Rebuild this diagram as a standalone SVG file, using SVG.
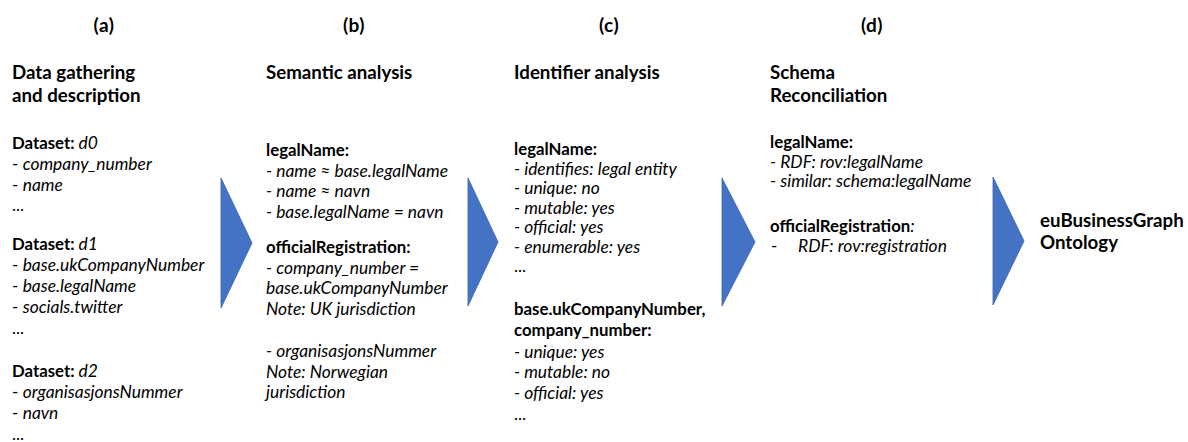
<svg xmlns="http://www.w3.org/2000/svg" width="1188" height="442" viewBox="0 0 1188 442">
  <style>
    text { font-family: Lato, "Open Sans", "DejaVu Sans", sans-serif; fill: #000; font-size: 17px; }
    .hd { font-size: 19px; font-weight: bold; text-anchor: middle; letter-spacing: 0.5px; }
    .tt { font-size: 18.7px; font-weight: bold; }
    .bd { font-weight: bold; font-size: 16.8px; }
    .it { font-style: italic; font-size: 17.4px; }
    .step { fill: #4472C4; stroke: #3A64AE; stroke-width: 0.8; }
  </style>

  <!-- stage arrows between the columns -->
  <g id="connectors">
    <polygon class="step" points="221,178 252,243 221,308"/>
    <polygon class="step" points="468,178 498,242 468,306"/>
    <polygon class="step" points="722,178 755,242 722,306"/>
    <polygon class="step" points="993,177 1024,241 993,305"/>
  </g>

  <!-- (a) data gathering -->
  <g id="stage-a">
    <text class="hd" x="104" y="32">(a)</text>
    <text class="tt" x="12" y="79">Data gathering</text>
    <text class="tt" x="12" y="102">and description</text>
    <text x="12" y="149"><tspan class="bd">Dataset: </tspan><tspan class="it">d0</tspan></text>
    <text x="12" y="170">- <tspan class="it">company_number</tspan></text>
    <text x="12" y="191">- <tspan class="it">name</tspan></text>
    <text x="12" y="211">...</text>
    <text x="12" y="250"><tspan class="bd">Dataset: </tspan><tspan class="it">d1</tspan></text>
    <text x="12" y="271">- <tspan class="it">base.ukCompanyNumber</tspan></text>
    <text x="12" y="292">- <tspan class="it">base.legalName</tspan></text>
    <text x="12" y="313">- <tspan class="it">socials.twitter</tspan></text>
    <text x="12" y="334">...</text>
    <text x="12" y="377"><tspan class="bd">Dataset: </tspan><tspan class="it">d2</tspan></text>
    <text x="12" y="398">- <tspan class="it">organisasjonsNummer</tspan></text>
    <text x="12" y="419">- <tspan class="it">navn</tspan></text>
    <text x="12" y="440">...</text>
  </g>

  <!-- (b) semantic analysis -->
  <g id="stage-b">
    <text class="hd" x="354" y="32">(b)</text>
    <text class="tt" x="266" y="79">Semantic analysis</text>
    <text class="bd" x="266" y="156">legalName:</text>
    <text class="it" x="266" y="176.5">- name ≈ base.legalName</text>
    <text class="it" x="266" y="197">- name ≈ navn</text>
    <text class="it" x="266" y="217.5">- base.legalName = navn</text>
    <text class="bd" x="266" y="253">officialRegistration:</text>
    <text class="it" x="266" y="273.5">- company_number =</text>
    <text class="it" x="266" y="294">base.ukCompanyNumber</text>
    <text class="it" x="266" y="314.5">Note: UK jurisdiction</text>
    <text class="it" x="266" y="357">- organisasjonsNummer</text>
    <text class="it" x="266" y="377.5">Note: Norwegian</text>
    <text class="it" x="266" y="398">jurisdiction</text>
  </g>

  <!-- (c) identifier analysis -->
  <g id="stage-c">
    <text class="hd" x="609" y="32">(c)</text>
    <text class="tt" x="514" y="79">Identifier analysis</text>
    <text class="bd" x="514" y="155">legalName:</text>
    <text class="it" x="514" y="174.5">- identifies: legal entity</text>
    <text class="it" x="514" y="194">- unique: no</text>
    <text class="it" x="514" y="213.5">- mutable: yes</text>
    <text class="it" x="514" y="233">- official: yes</text>
    <text class="it" x="514" y="252.5">- enumerable: yes</text>
    <text x="514" y="272">...</text>
    <text class="bd" x="514" y="315">base.ukCompanyNumber,</text>
    <text class="bd" x="514" y="336">company_number:</text>
    <text class="it" x="514" y="357.5">- unique: yes</text>
    <text class="it" x="514" y="378">- mutable: no</text>
    <text class="it" x="514" y="399">- official: yes</text>
    <text x="514" y="420">...</text>
  </g>

  <!-- (d) schema reconciliation -->
  <g id="stage-d">
    <text class="hd" x="872" y="32">(d)</text>
    <text class="tt" x="770" y="79">Schema</text>
    <text class="tt" x="770" y="102">Reconciliation</text>
    <text class="bd" x="770" y="148">legalName:</text>
    <text class="it" x="770" y="167.5">- RDF: rov:legalName</text>
    <text class="it" x="770" y="187">- similar: schema:legalName</text>
    <text x="770" y="232"><tspan class="bd">officialRegistration</tspan><tspan class="it">:</tspan></text>
    <text x="771" y="252">-</text>
    <text class="it" x="798" y="252">RDF: rov:registration</text>
  </g>

  <!-- result -->
  <g id="ontology">
    <text class="tt" x="1040" y="227">euBusinessGraph</text>
    <text class="tt" x="1040" y="249">Ontology</text>
  </g>
</svg>
